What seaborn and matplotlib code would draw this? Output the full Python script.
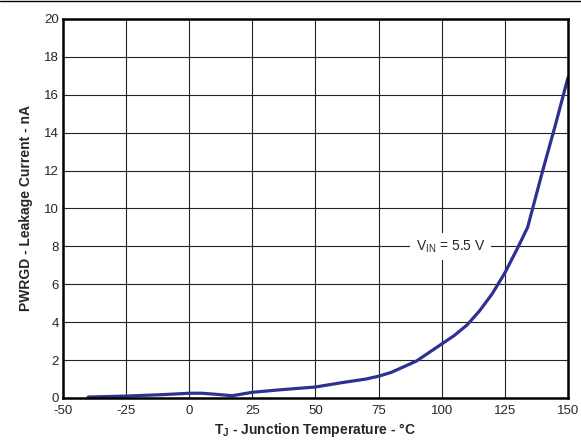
import numpy as np
import pandas as pd
import matplotlib
matplotlib.use("Agg")
import matplotlib.pyplot as plt
import seaborn as sns

# values
temperature = [-40, -25, -10, 0, 5, 10, 17, 25, 35, 50, 60, 70, 75, 80,
               90, 100, 105, 110, 115, 120, 125, 130, 134, 140, 145, 150]
leakage = [0.05, 0.1, 0.18, 0.25, 0.25, 0.2, 0.12, 0.3, 0.42, 0.58, 0.8, 1.0,
           1.15, 1.35, 1.95, 2.85, 3.3, 3.85, 4.6, 5.5, 6.6, 7.9, 9.0, 12.0,
           14.4, 16.9]
x_ticks = [-50, -25, 0, 25, 50, 75, 100, 125, 150]
y_ticks = [0, 2, 4, 6, 8, 10, 12, 14, 16, 18, 20]

df = pd.DataFrame({"T": temperature, "I": leakage})

sns.set_style("white")
plt.rcParams["font.family"] = ["Liberation Sans", "DejaVu Sans"]
plt.rcParams["axes.unicode_minus"] = False

fig = plt.figure(figsize=(5.81, 4.40), dpi=100)
ax = fig.add_axes([0.1084, 0.0955, 0.8692, 0.8615])

sns.lineplot(data=df, x="T", y="I", ax=ax, color="#2E3192", linewidth=2.3)

ax.set_xlim(-50, 150)
ax.set_ylim(0, 20)
ax.set_xticks(x_ticks)
ax.set_yticks(y_ticks)
ax.tick_params(axis="both", labelsize=9.5, length=0)
ax.tick_params(axis="x", pad=5)
ax.tick_params(axis="y", pad=3)
ax.grid(True, color="#222222", linewidth=0.8)
ax.set_axisbelow(True)
for s in ax.spines.values():
    s.set_visible(True)
    s.set_color("black")
    s.set_linewidth(1.8)

ax.set_xlabel(r"T$_\mathregular{J}$ - Junction Temperature - °C",
              fontsize=10, fontweight="bold", labelpad=3)
ax.set_ylabel("PWRGD - Leakage Current - nA", fontsize=10,
              fontweight="bold", labelpad=8)

ax.text(103.5, 8, r"V$_\mathregular{IN}$ = 5.5 V", fontsize=10, ha="center",
        va="center", bbox=dict(facecolor="white", edgecolor="none", pad=4))

# thin rule at the top of the figure
fig.add_artist(plt.Line2D([0, 1], [0.998, 0.998], color="black", linewidth=1))

fig.savefig("out.png", dpi=100)
